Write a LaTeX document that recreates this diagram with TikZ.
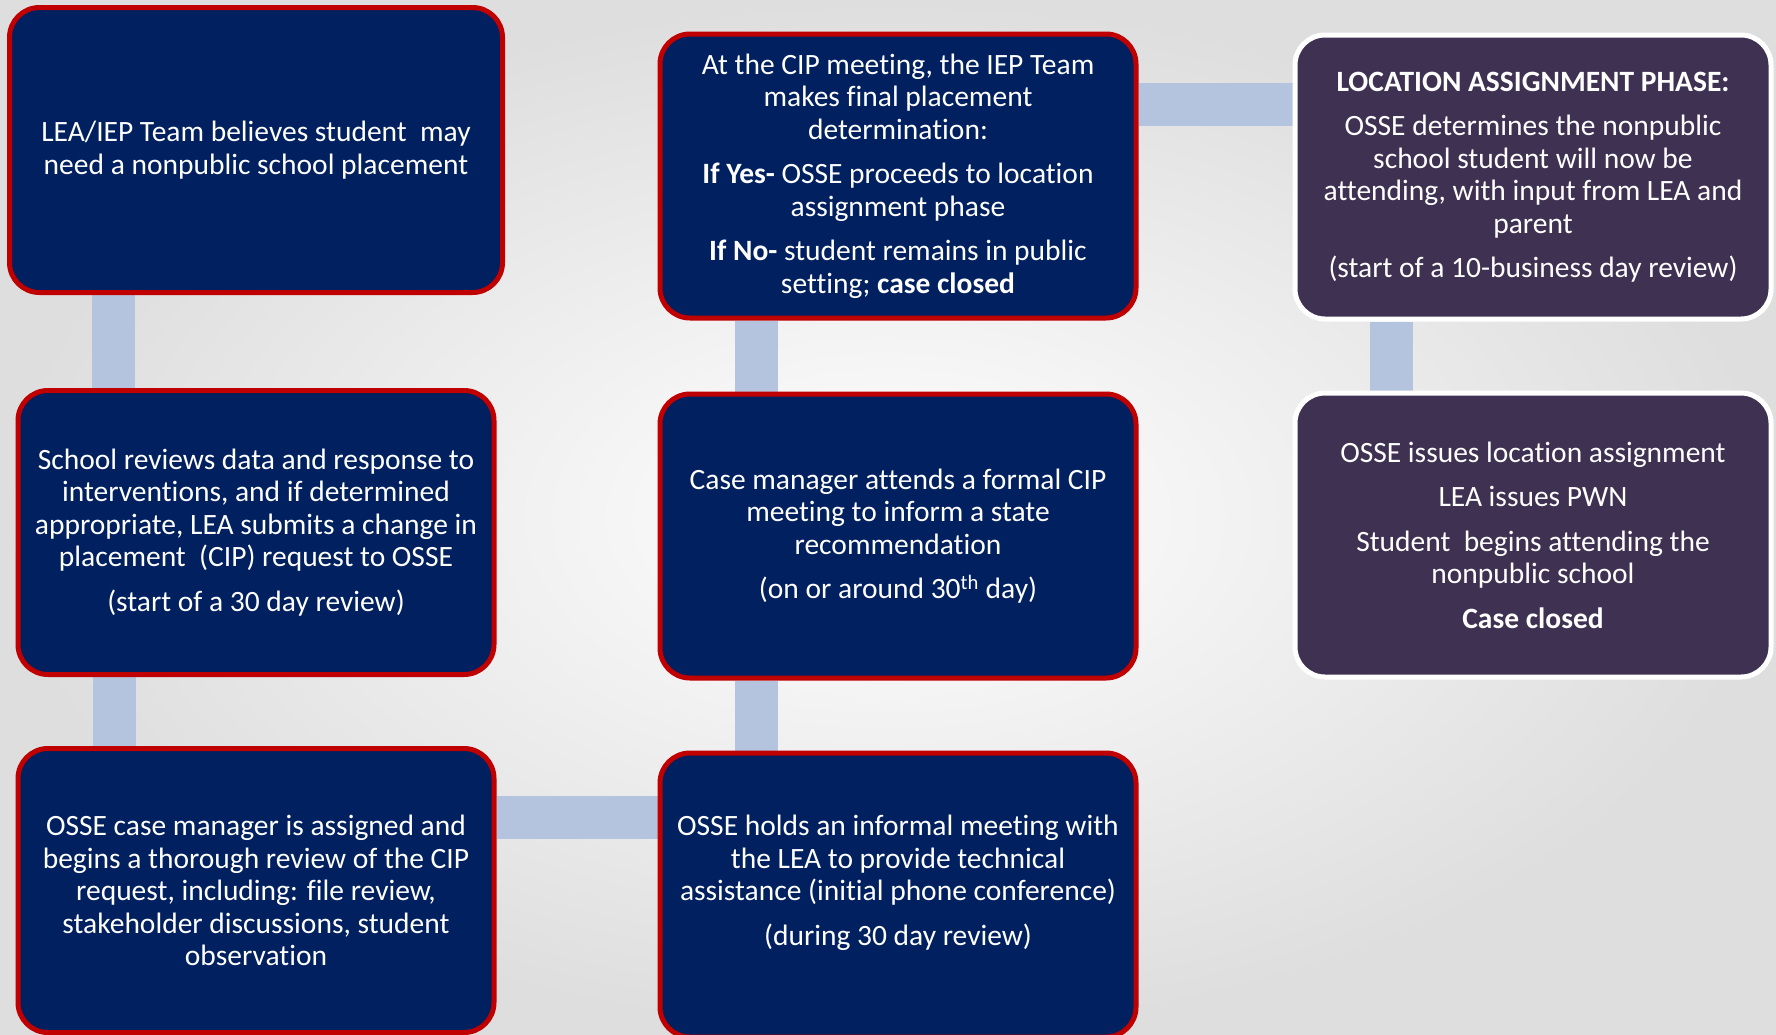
\documentclass[tikz,border=0pt]{standalone}
\usepackage{fontspec}
\setmainfont{Carlito}[Ligatures=NoCommon]
\usetikzlibrary{positioning,backgrounds}
\definecolor{navybox}{HTML}{002060}
\definecolor{redline}{HTML}{C00000}
\definecolor{plumbox}{HTML}{3F3151}
\definecolor{linkblue}{HTML}{B4C4DE}
\definecolor{bgedge}{HTML}{DEDEDE}

\begin{document}
\begin{tikzpicture}[
  x=1pt, y=-1pt,
  node distance=70pt,
  stage/.style={draw=redline, line width=5pt, fill=navybox, rounded corners=30pt,
    text=white, align=center, minimum width=476pt, minimum height=284pt,
    font=\fontsize{29.5}{32.5}\selectfont},
  phase/.style={stage, draw=white, fill=plumbox},
  link/.style={linkblue, line width=43pt}
]
  \clip (0,0) rectangle (1776,1034);

  % left column
  \node[stage, minimum width=493pt, minimum height=285pt] (need) at (256,150)
    {LEA/IEP Team believes student\ \ may\\ need a nonpublic school placement};
  \node[stage, below=93pt of need] (request)
    {School reviews data and response to\\ interventions, and if determined\\
     appropriate, LEA submits a change in\\ placement\ \ (CIP) request to OSSE\\[12pt]
     (start of a 30 day review)};
  \node[stage, below=69pt of request] (review)
    {OSSE case manager is assigned and\\ begins a thorough review of the CIP\\
     request, including: file review,\\ stakeholder discussions, student\\ observation};

  % middle column
  \node[stage] (decide) at (898,176)
    {At the CIP meeting, the IEP Team\\ makes final placement\\ determination:\\[12pt]
     \textbf{If Yes-} OSSE proceeds to location\\ assignment phase\\[12pt]
     \textbf{If No-} student remains in public\\ setting; \textbf{case closed}};
  \node[stage, below=71pt of decide] (formal)
    {Case manager attends a formal CIP\\ meeting to inform a state\\ recommendation\\[12pt]
     (on or around 30\textsuperscript{th} day)};
  \node[stage, below=70pt of formal, text depth=30pt] (informal)
    {OSSE holds an informal meeting with\\ the LEA to provide technical\\
     assistance (initial phone conference)\\[12pt]
     (during 30 day review)};

  % right column
  \node[phase] (locate) at (1533,177)
    {\textbf{LOCATION ASSIGNMENT PHASE:}\\[12pt]
     OSSE determines the nonpublic\\ school student will now be\\
     attending, with input from LEA and\\ parent\\[12pt]
     (start of a 10-business day review)};
  \node[phase, below=69pt of locate] (issue)
    {OSSE issues location assignment\\[12pt]
     LEA issues PWN\\[12pt]
     Student\ \ begins attending the\\ nonpublic school\\[12pt]
     \textbf{Case closed}};

  \coordinate (c1) at ([xshift=-143pt]need.south);
  \coordinate (c2) at ([xshift=-142pt]request.south);
  \coordinate (c3) at ([yshift=73pt]review.east);
  \coordinate (c4) at ([xshift=-142pt]informal.north);
  \coordinate (c5) at ([xshift=-142pt]formal.north);
  \coordinate (c6) at ([yshift=72pt]decide.east);
  \coordinate (c7) at ([xshift=-142pt]locate.south);

  \begin{scope}[on background layer]
    \fill[inner color=white, outer color=bgedge] (0,0) rectangle (1776,1034);
    \draw[link] (c1) -- (c1 |- request.north);
    \draw[link] (c2) -- (c2 |- review.north);
    \draw[link] (c3) -- (c3 -| informal.west);
    \draw[link] (c4) -- (c4 |- formal.south);
    \draw[link] (c5) -- (c5 |- decide.south);
    \draw[link] (c6) -- (c6 -| locate.west);
    \draw[link] (c7) -- (c7 |- issue.north);
  \end{scope}
\end{tikzpicture}
\end{document}
